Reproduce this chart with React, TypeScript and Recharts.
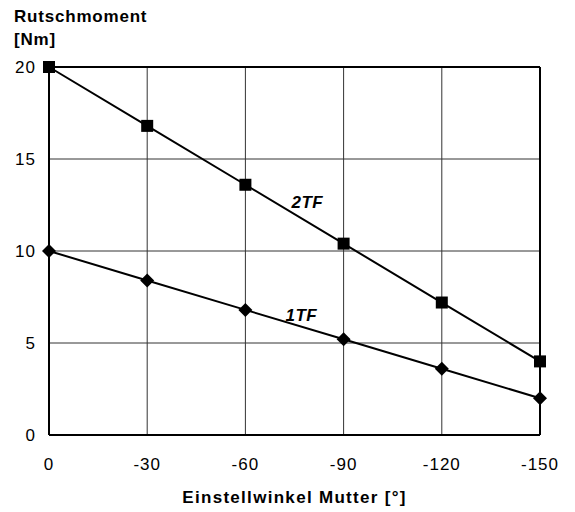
import React from "react";
import {
  LineChart,
  Line,
  XAxis,
  YAxis,
  CartesianGrid,
  ReferenceLine,
} from "recharts";

const winkel = [0, -30, -60, -90, -120, -150];
const moment2TF = [20, 16.8, 13.6, 10.4, 7.2, 4.0];
const moment1TF = [10, 8.4, 6.8, 5.2, 3.6, 2.0];
const xTicks = [0, -30, -60, -90, -120, -150];
const yTicks = [0, 5, 10, 15, 20];

const data = winkel.map((w, i) => ({
  w,
  tf2: moment2TF[i],
  tf1: moment1TF[i],
}));

const FONT = "'Liberation Sans', Arial, sans-serif";

const SquareDot = (props: any) => {
  const { cx, cy } = props;
  return <rect x={cx - 6} y={cy - 6} width={12} height={12} fill="#000" />;
};

const DiamondDot = (props: any) => {
  const { cx, cy } = props;
  return (
    <path
      d={`M${cx},${cy - 7} L${cx + 7},${cy} L${cx},${cy + 7} L${cx - 7},${cy} Z`}
      fill="#000"
    />
  );
};

const seriesLabel = (text: string, idx: number, dx: number, dy: number) => (p: any) => {
  if (p.index !== idx) return null;
  return (
    <text
      x={p.x + dx}
      y={p.y + dy}
      textAnchor="middle"
      fontFamily={FONT}
      fontSize={17}
      fontWeight="bold"
      fontStyle="italic"
      fill="#000"
      letterSpacing={0.5}
    >
      {text}
    </text>
  );
};

const YTitle = (p: any) => (
  <text fontFamily={FONT} fontSize={17} fontWeight="bold" fill="#000" letterSpacing={0.8}>
    <tspan x={14} y={22}>Rutschmoment</tspan>
    <tspan x={14} y={45}>[Nm]</tspan>
  </text>
);

const tickStyle = { fontFamily: FONT, fontSize: 17, fill: "#000", letterSpacing: 1 };

export default function App() {
  return (
    <div style={{ position: "absolute", left: 0, top: 0, background: "#fff" }}>
      <LineChart
        width={575}
        height={512}
        data={data}
        margin={{ top: 67, right: 35, left: 0, bottom: 0 }}
      >
        <CartesianGrid stroke="#333" strokeWidth={1} />
        <XAxis
          dataKey="w"
          type="number"
          domain={[-150, 0]}
          reversed
          ticks={xTicks}
          height={77}
          tickSize={0}
          tickMargin={23}
          interval={0}
          tick={tickStyle}
          axisLine={{ stroke: "#000", strokeWidth: 2 }}
          label={{
            value: "Einstellwinkel Mutter [°]",
            position: "insideBottom",
            offset: 9,
            style: { fontFamily: FONT, fontSize: 17, fontWeight: "bold", fill: "#000", letterSpacing: 1.3 },
          }}
        />
        <YAxis
          type="number"
          domain={[0, 20]}
          ticks={yTicks}
          width={49}
          tickSize={0}
          tickMargin={13}
          interval={0}
          tick={tickStyle}
          axisLine={{ stroke: "#000", strokeWidth: 2 }}
          label={<YTitle />}
        />
        <ReferenceLine y={20} stroke="#000" strokeWidth={2} />
        <ReferenceLine x={-150} stroke="#000" strokeWidth={2} />
        <Line
          dataKey="tf2"
          stroke="#000"
          strokeWidth={2}
          dot={<SquareDot />}
          activeDot={false}
          isAnimationActive={false}
          label={seriesLabel("2TF", 2, 62, 23)}
        />
        <Line
          dataKey="tf1"
          stroke="#000"
          strokeWidth={2}
          dot={<DiamondDot />}
          activeDot={false}
          isAnimationActive={false}
          label={seriesLabel("1TF", 2, 56, 11)}
        />
      </LineChart>
    </div>
  );
}
